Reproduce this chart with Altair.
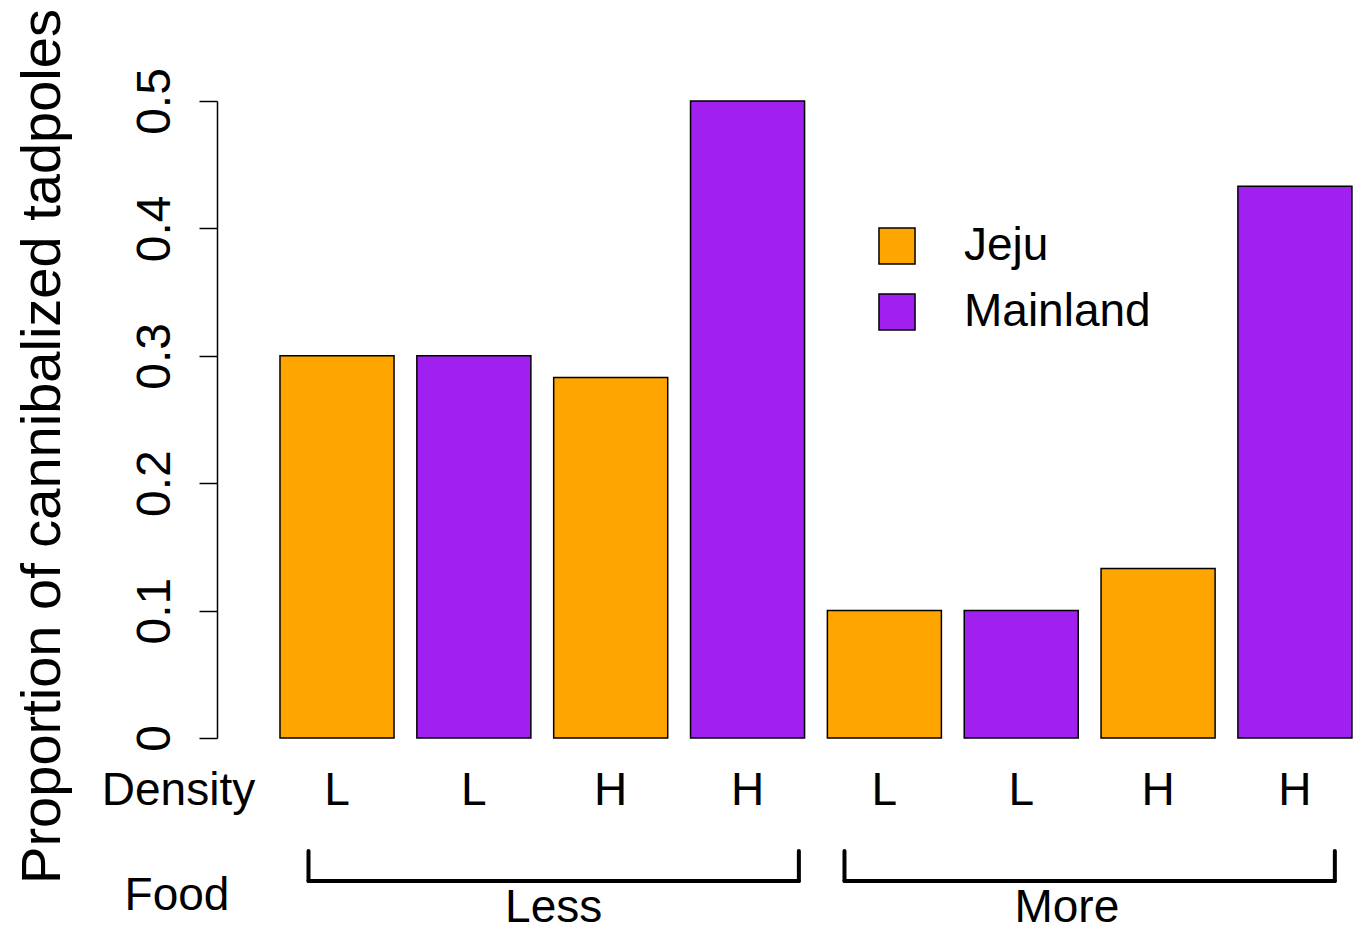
import altair as alt
import pandas as pd

# ---- data ----
origin = ["Jeju", "Mainland", "Jeju", "Mainland", "Jeju", "Mainland", "Jeju", "Mainland"]
density = ["L", "L", "H", "H", "L", "L", "H", "H"]
food = ["Less", "Less", "Less", "Less", "More", "More", "More", "More"]
proportion = [0.30, 0.30, 0.283, 0.50, 0.10, 0.10, 0.133, 0.433]
food_levels = ["Less", "More"]
y_ticks = [0, 0.1, 0.2, 0.3, 0.4, 0.5]

# ---- layout (R barplot convention: width 1, space 0.2) ----
BAR_W, SPACE = 1.0, 0.2
x0 = [SPACE + i * (BAR_W + SPACE) for i in range(len(proportion))]
x1 = [v + BAR_W for v in x0]
xc = [v + BAR_W / 2 for v in x0]

bars = pd.DataFrame({"origin": origin, "density": density, "food": food,
                     "value": proportion, "x0": x0, "x1": x1, "xc": xc})
brackets = pd.DataFrame({"food": food_levels,
                         "start": [0.45, 5.15], "end": [4.75, 9.45],
                         "lab_x": [2.60, 7.10]})

FONT = "Liberation Sans"
xs = alt.Scale(domain=[-0.3524, 9.618], nice=False, zero=False)
ys = alt.Scale(domain=[0, 0.5], nice=False, zero=False)

bar_layer = alt.Chart(bars).mark_rect(stroke="black", strokeWidth=1.5).encode(
    x=alt.X("x0:Q", scale=xs, axis=None),
    x2="x1",
    y=alt.Y("value:Q", scale=ys, axis=alt.Axis(
        values=y_ticks, format=".1~f", grid=False,
        labelAngle=270, labelAlign="center", labelBaseline="bottom",
        labelFont=FONT, labelFontSize=48, labelColor="black", labelPadding=20,
        labelFlush=False, labelOverlap=False,
        tickSize=18, tickWidth=1.5, tickColor="black",
        domainColor="black", domainWidth=1.5,
        title="Proportion of cannibalized tadpoles",
        titleFont=FONT, titleFontSize=56, titleFontWeight="normal", titleColor="black",
        titleAngle=270, titleAlign="center", titleBaseline="alphabetic",
        titleX=-158, titleY=345, titleLimit=0)),
    y2=alt.datum(0),
    color=alt.Color("origin:N",
                    scale=alt.Scale(domain=["Jeju", "Mainland"], range=["#FFA500", "#A020F0"]),
                    legend=alt.Legend(title=None, orient="none", legendX=657, legendY=122,
                                      direction="vertical", symbolType="square",
                                      symbolSize=1300, symbolStrokeColor="black",
                                      symbolStrokeWidth=1.5, symbolOpacity=1,
                                      labelFont=FONT, labelFontSize=46, labelColor="black",
                                      labelOffset=44, labelLimit=0, rowPadding=20, padding=0,
                                      labelBaseline="middle")),
)

density_labels = alt.Chart(bars).mark_text(
    font=FONT, fontSize=46, color="black", baseline="alphabetic", align="center"
).encode(x=alt.X("xc:Q", scale=xs), y=alt.datum(-0.0526), text="density:N")

row_titles = pd.DataFrame({"label": ["Density", "Food"]})
density_title = alt.Chart(row_titles).transform_filter(
    alt.datum.label == "Density").mark_text(
    font=FONT, fontSize=46, color="black", baseline="alphabetic", align="center"
).encode(x=alt.datum(-0.69), y=alt.datum(-0.0526), text="label:N")
food_title = alt.Chart(row_titles).transform_filter(
    alt.datum.label == "Food").mark_text(
    font=FONT, fontSize=46, color="black", baseline="alphabetic", align="center"
).encode(x=alt.datum(-0.703), y=alt.datum(-0.135), text="label:N")

bk = alt.Chart(brackets)
b_h = bk.mark_rule(color="black", strokeWidth=4, strokeCap="round").encode(
    x=alt.X("start:Q", scale=xs), x2="end", y=alt.datum(-0.1122))
b_l = bk.mark_rule(color="black", strokeWidth=4, strokeCap="round").encode(
    x=alt.X("start:Q", scale=xs), y=alt.datum(-0.0887), y2=alt.datum(-0.1122))
b_r = bk.mark_rule(color="black", strokeWidth=4, strokeCap="round").encode(
    x=alt.X("end:Q", scale=xs), y=alt.datum(-0.0887), y2=alt.datum(-0.1122))
food_labels = bk.mark_text(
    font=FONT, fontSize=46, color="black", baseline="alphabetic", align="center"
).encode(x=alt.X("lab_x:Q", scale=xs), y=alt.datum(-0.1444), text="food:N")

chart = alt.layer(
    bar_layer, density_labels, density_title, food_title, b_h, b_l, b_r, food_labels
).properties(
    width=1137, height=637,
    autosize=alt.AutoSizeParams(type="none"),
    padding={"left": 209, "top": 93, "right": 0, "bottom": 195},
    background="white",
).configure_view(stroke=None)

chart.save("out.html", embed_options={"renderer": "svg", "actions": False})
